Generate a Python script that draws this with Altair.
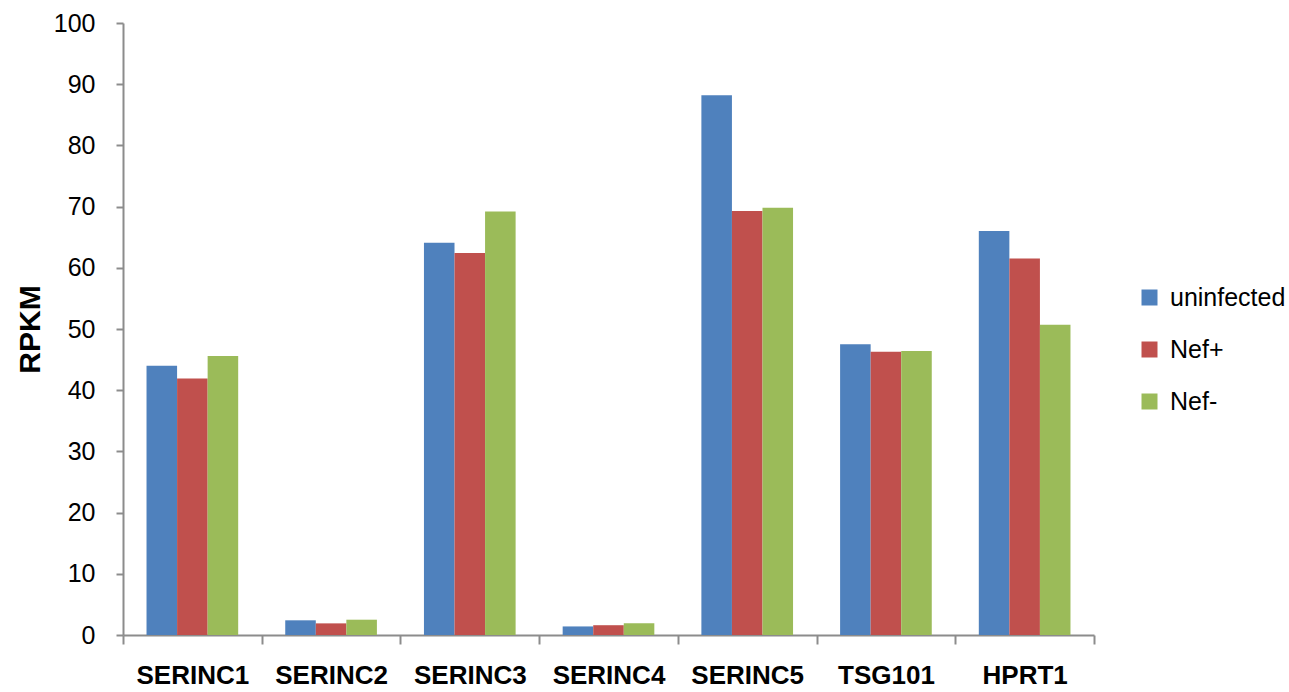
import altair as alt
import pandas as pd

# Genes on the x axis, in display order
genes = ["SERINC1", "SERINC2", "SERINC3", "SERINC4", "SERINC5", "TSG101", "HPRT1"]

# Conditions (one bar per gene each)
conditions = ["uninfected", "Nef+", "Nef-"]

# Expression values (RPKM)
uninfected = [44.0, 2.4, 64.1, 1.4, 88.2, 47.5, 66.0]
nef_plus = [41.9, 1.9, 62.4, 1.6, 69.3, 46.3, 61.5]
nef_minus = [45.6, 2.5, 69.2, 1.9, 69.8, 46.4, 50.7]

colors = ["#4F81BD", "#C0504D", "#9BBB59"]
y_ticks = list(range(0, 101, 10))

rows = []
for cond, vals in zip(conditions, [uninfected, nef_plus, nef_minus]):
    for g, v in zip(genes, vals):
        rows.append({"gene": g, "condition": cond, "rpkm": v})
df = pd.DataFrame(rows)

FONT = "Liberation Sans, Arial"
AXIS_GRAY = "#8C8C8C"

chart = (
    alt.Chart(df)
    .mark_bar()
    .encode(
        x=alt.X(
            "gene:N",
            sort=genes,
            scale=alt.Scale(paddingInner=0, paddingOuter=0),
            axis=alt.Axis(
                title=None,
                labelAngle=0,
                tickBand="extent",
                tickSize=9,
                tickWidth=2,
                domainWidth=2,
                domainColor=AXIS_GRAY,
                tickColor=AXIS_GRAY,
                labelFont=FONT,
                labelFontSize=26,
                labelFontWeight="bold",
                labelColor="black",
                labelBaseline="middle",
                labelPadding=31,
            ),
        ),
        xOffset=alt.XOffset(
            "condition:N",
            sort=conditions,
            scale=alt.Scale(paddingInner=0, paddingOuter=0.77),
        ),
        y=alt.Y(
            "rpkm:Q",
            scale=alt.Scale(domain=[0, 100], nice=False),
            axis=alt.Axis(
                values=y_ticks,
                grid=False,
                title="RPKM",
                titleFont=FONT,
                titleFontSize=30,
                titleFontWeight="bold",
                titleColor="black",
                titleAngle=-90,
                titleBaseline="alphabetic",
                titleX=-84,
                titleY=306,
                tickSize=7,
                tickWidth=2,
                domainWidth=2,
                domainColor=AXIS_GRAY,
                tickColor=AXIS_GRAY,
                labelFont=FONT,
                labelFontSize=25,
                labelColor="black",
                labelPadding=21,
            ),
        ),
        color=alt.Color(
            "condition:N",
            sort=conditions,
            scale=alt.Scale(domain=conditions, range=colors),
            legend=alt.Legend(
                title=None,
                orient="none",
                legendX=1014,
                legendY=262,
                symbolType="square",
                symbolSize=256,
                symbolStrokeWidth=0,
                labelFont=FONT,
                labelFontSize=25,
                labelColor="black",
                labelOffset=8,
                rowPadding=26,
            ),
        ),
    )
    .properties(
        width=971,
        height=612,
        padding={"left": 123, "top": 23, "right": 195, "bottom": 57},
        autosize=alt.AutoSizeParams(type="none"),
    )
    .configure_view(stroke=None)
)

chart.save("out.html", embed_options={"renderer": "svg", "actions": False})
